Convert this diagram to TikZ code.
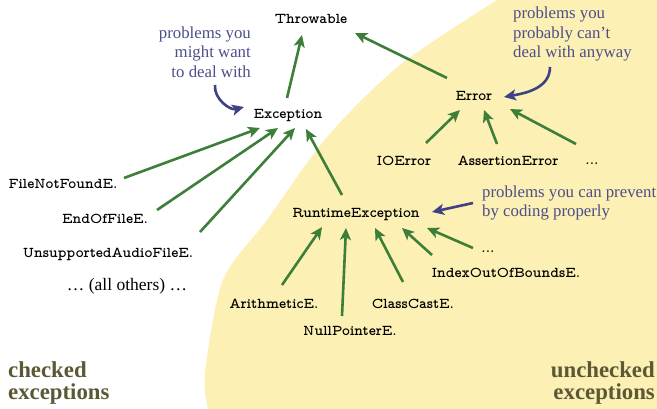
\documentclass[tikz,border=0pt]{standalone}
\usepackage{fontspec}
\setmainfont{Liberation Serif}
\newfontfamily\clsfont[Extension=.otf]{lmmonoproplt10-bold}
\usetikzlibrary{arrows.meta}
\definecolor{bgyellow}{HTML}{FCF0B4}
\definecolor{arrgreen}{HTML}{3D7E39}
\definecolor{notblue}{HTML}{4B4E8A}
\definecolor{arrblue}{HTML}{3E4285}
\definecolor{olive}{HTML}{5C5835}
\tikzset{
  cls/.style={font=\fontsize{15}{17}\selectfont\clsfont, inner sep=0pt, text height=9.5pt, text depth=3pt},
  note/.style={font=\fontsize{16.8}{19.5}\selectfont, text=notblue, inner sep=0pt},
  big/.style={font=\fontsize{22.8}{22}\selectfont\bfseries, text=olive, inner sep=0pt},
  garr/.style={draw=arrgreen, line width=2.6pt, -{Stealth[length=12pt,width=11pt,inset=3pt]}},
  barr/.style={draw=arrblue, line width=2.6pt, -{Stealth[length=12pt,width=11pt,inset=3pt]}}
}
\begin{document}
\begin{tikzpicture}[x=1pt,y=-1pt]
\useasboundingbox (0,0) rectangle (657,409);
\fill[bgyellow] plot[smooth] coordinates {(497,0) (400,65) (327,137) (267,220) (223,280) (205,373) (208,409)} -- (657,409) -- (657,0) -- cycle;

% class nodes
\node[cls] (thr) at (311,20) {Throwable};
\node[cls] (exc) at (288,115) {Exception};
\node[cls] (err) at (474,97) {Error};
\node[cls] (ioe) at (404,162) {IOError};
\node[cls] (ase) at (508,162) {AssertionError};
\node[cls, text height=1.5pt, text depth=0pt] (dte) at (592,164) {...};
\node[cls] (fnf) at (63,185) {FileNotFoundE.};
\node[cls] (eof) at (105,220) {EndOfFileE.};
\node[cls] (uaf) at (108,254) {UnsupportedAudioFileE.};
\node[font=\fontsize{17.5}{19}\selectfont, inner sep=0pt] (oth) at (127,286) {… (all others) …};
\node[cls] (rte) at (356,214) {RuntimeException};
\node[cls, text height=1.5pt, text depth=0pt] (dtr) at (488,252) {...};
\node[cls] (iob) at (506,274) {IndexOutOfBoundsE.};
\node[cls] (cce) at (413,305) {ClassCastE.};
\node[cls] (npe) at (350,332) {NullPointerE.};
\node[cls] (ari) at (274,305) {ArithmeticE.};

% notes
\node[note, align=right, anchor=east] (nmight) at (251,52) {problems you\\might want\\to deal with};
\node[note, align=left, anchor=west] (nprob) at (513,34) {problems you\\probably can’t\\deal with anyway};
\node[note, align=left, anchor=west] (nprev) at (482,203) {problems you can prevent\\by coding properly};

\node[big, align=left, anchor=west] (chk) at (8,383) {checked\\exceptions};
\node[big, align=right, anchor=east] (unchk) at (655,383) {unchecked\\exceptions};

% green arrows
\draw[garr] ([shift={(-1,-17)}]exc.center) -- ([shift={(-9,15)}]thr.center);
\draw[garr] ([shift={(-27,-19)}]err.center) -- ([shift={(44,13)}]thr.center);
\draw[garr] ([shift={(22,-19)}]ioe.center) -- ([shift={(-14,13)}]err.center);
\draw[garr] ([shift={(-11,-18)}]ase.center) -- ([shift={(10,13)}]err.center);
\draw[garr] ([shift={(-16,-20)}]dte.center) -- ([shift={(36,12)}]err.center);
\draw[garr] ([shift={(61,-7)}]fnf.center) -- ([shift={(-28,13)}]exc.center);
\draw[garr] ([shift={(52,-10)}]eof.center) -- ([shift={(-10,13)}]exc.center);
\draw[garr] ([shift={(92,-22)}]uaf.center) -- ([shift={(7,13)}]exc.center);
\draw[garr] ([shift={(-14,-19)}]rte.center) -- ([shift={(18,14)}]exc.center);
\draw[garr] ([shift={(8,-20)}]ari.center) -- ([shift={(-34,13)}]rte.center);
\draw[garr] ([shift={(-8,-16)}]npe.center) -- ([shift={(-10,14)}]rte.center);
\draw[garr] ([shift={(-10,-23)}]cce.center) -- ([shift={(19,14)}]rte.center);
\draw[garr] ([shift={(-74,-19)}]iob.center) -- ([shift={(46,14)}]rte.center);
\draw[garr] ([shift={(-15,-4)}]dtr.center) -- ([shift={(71,14)}]rte.center);

% blue arrows
\draw[barr] ([shift={(-73,-30)}]exc.center) to[out=-95, in=195] ([shift={(-44,-8)}]exc.center);
\draw[barr] ([shift={(76,-30)}]err.center) to[out=-90, in=10] ([shift={(30,0)}]err.center);
\draw[barr] ([shift={(117,-11)}]rte.center) -- ([shift={(76,-2)}]rte.center);
\end{tikzpicture}
\end{document}
